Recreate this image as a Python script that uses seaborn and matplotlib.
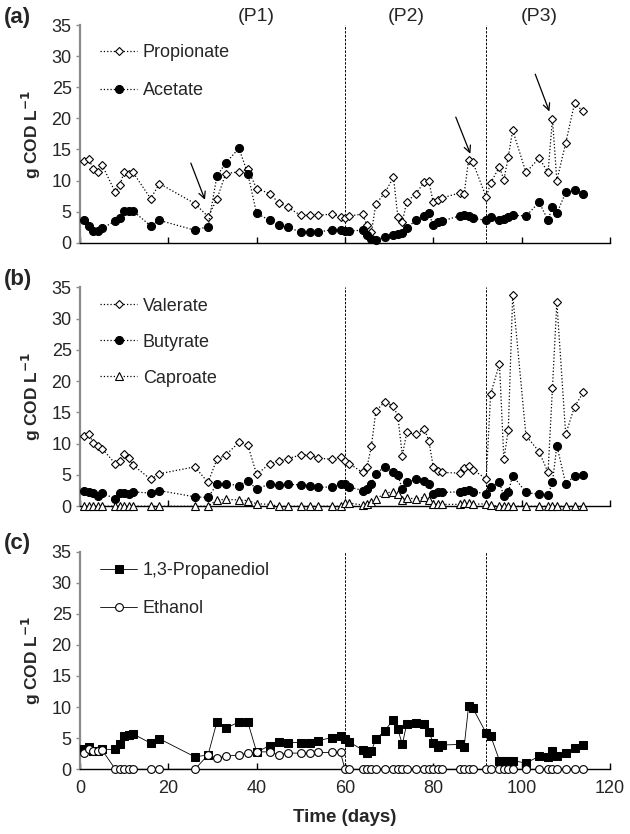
"""Fermentation products over time, three stacked panels."""

import matplotlib
matplotlib.use("Agg")
import matplotlib.pyplot as plt
import seaborn as sns

days = [1, 2, 3, 4, 5, 8, 9, 10, 11, 12, 16, 18, 26, 29, 31, 33, 36, 38, 40, 43,
        45, 47, 50, 52, 54, 57, 59, 60, 61, 64, 65, 66, 67, 69, 71, 72, 73, 74, 76, 78,
        79, 80, 81, 82, 86, 87, 88, 89, 92, 93, 95, 96, 97, 98, 101, 104, 106, 107, 108, 110,
        112, 114]

propionate = [13.1, 13.5, 11.8, 11.4, 12.5, 8.1, 9.2, 11.4, 11.1, 11.3, 7.1, 9.5, 6.3, 4.2, 7.0, 11.1, 11.4, 11.8, 8.7, 7.9,
              6.4, 5.7, 4.4, 4.4, 4.4, 4.6, 4.2, 3.9, 4.3, 4.6, 2.8, 1.7, 6.2, 8.0, 10.5, 4.1, 3.3, 6.6, 7.8, 9.8,
              9.9, 6.5, 6.9, 7.2, 8.0, 7.8, 13.3, 12.9, 7.3, 9.6, 12.2, 10.1, 13.8, 18.1, 11.3, 13.6, 11.3, 19.9, 10.0, 16.0,
              22.4, 21.1]
acetate = [3.6, 2.7, 1.9, 1.9, 2.3, 3.5, 3.9, 5.1, 5.1, 5.1, 2.7, 3.6, 2.0, 2.6, 10.7, 12.8, 15.2, 11.1, 4.7, 3.6,
           2.8, 2.5, 1.7, 1.7, 1.7, 2.1, 2.0, 1.9, 1.9, 2.0, 1.2, 0.6, 0.5, 0.9, 1.2, 1.4, 1.6, 2.3, 3.6, 4.3,
           4.7, 2.8, 3.3, 3.5, 4.3, 4.4, 4.3, 3.9, 3.6, 4.1, 3.6, 3.8, 4.2, 4.4, 4.3, 6.5, 3.6, 5.8, 4.7, 8.1,
           8.4, 7.8]

valerate = [11.3, 11.6, 10.1, 9.6, 9.2, 6.8, 7.3, 8.3, 7.7, 6.6, 4.3, 5.2, 6.3, 3.8, 7.5, 8.2, 10.2, 9.8, 5.1, 6.8,
            7.2, 7.6, 8.2, 8.2, 7.7, 7.5, 7.9, 7.3, 6.8, 5.4, 6.3, 9.6, 15.2, 16.7, 16.0, 14.3, 8.1, 11.8, 11.5, 12.3,
            10.5, 6.3, 5.7, 5.4, 5.3, 6.1, 6.5, 5.8, 4.4, 17.9, 22.8, 7.5, 12.2, 33.8, 11.3, 8.7, 5.4, 18.9, 32.6, 11.5,
            15.9, 18.2]
butyrate = [2.5, 2.3, 2.1, 1.7, 2.1, 1.2, 2.1, 2.1, 2.0, 2.3, 2.1, 2.5, 1.5, 1.4, 3.5, 3.6, 3.3, 4.1, 2.7, 3.6,
            3.4, 3.5, 3.4, 3.3, 3.0, 3.1, 3.5, 3.5, 3.1, 2.5, 2.8, 3.6, 5.2, 6.3, 5.5, 5.0, 2.7, 3.8, 4.3, 4.1,
            3.5, 2.0, 2.2, 2.2, 2.3, 2.5, 2.6, 2.3, 2.0, 3.1, 3.8, 1.6, 2.3, 4.9, 2.2, 1.9, 1.8, 3.8, 9.7, 3.6,
            4.8, 5.0]
caproate = [0, 0, 0, 0, 0, 0, 0, 0, 0, 0, 0, 0, 0, 0, 1.0, 1.1, 1.0, 0.9, 0.4, 0.3,
            0, 0, 0, 0, 0, 0, 0, 0.5, 0.5, 0.2, 0.3, 0.6, 1.1, 2.1, 2.3, 1.9, 1.0, 1.3, 1.2, 1.4,
            1.0, 0.4, 0.3, 0.3, 0.3, 0.5, 0.5, 0.3, 0.4, 0.2, 0, 0, 0, 0, 0, 0, 0, 0, 0, 0,
            0, 0]

propanediol = [3.2, 3.6, 3.0, 3.0, 3.2, 3.2, 4.1, 5.4, 5.5, 5.7, 4.2, 4.9, 2.0, 2.3, 7.6, 6.6, 7.6, 7.6, 2.8, 3.8,
               4.4, 4.3, 4.3, 4.3, 4.6, 5.1, 5.3, 4.8, 4.4, 3.1, 2.6, 3.0, 4.8, 6.2, 8.0, 6.4, 4.0, 7.3, 7.4, 7.3,
               6.0, 4.3, 3.6, 3.9, 4.0, 3.6, 10.1, 9.8, 5.8, 5.4, 1.4, 1.4, 1.4, 1.4, 1.0, 2.1, 2.0, 2.9, 2.1, 2.6,
               3.5, 3.9]
ethanol = [2.6, 3.2, 3.0, 3.0, 3.1, 0, 0, 0, 0, 0, 0, 0, 0, 2.3, 1.8, 2.1, 2.3, 2.6, 2.8, 2.8,
           2.3, 2.6, 2.6, 2.6, 2.7, 2.7, 2.7, 0, 0, 0, 0, 0, 0, 0, 0, 0, 0, 0, 0, 0,
           0, 0, 0, 0, 0, 0, 0, 0, 0, 0, 0, 0, 0, 0, 0, 0, 0, 0, 0, 0,
           0, 0]

phase_bounds = [60, 92]
phase_labels = ["(P1)", "(P2)", "(P3)"]
phase_label_x = [40, 74, 104]
# arrows in panel (a): (tail day, tail value, head day, head value)
arrows = [(25.1, 12.8, 28.3, 6.9), (85.1, 20.2, 88.4, 14.3), (103.1, 27.1, 106.3, 21.1)]

sns.set_theme(style="ticks")
plt.rcParams['font.family'] = ['Liberation Sans', 'DejaVu Sans']

fig = plt.figure(figsize=(6.3, 8.34), dpi=100)
ax_a = fig.add_axes([0.127, 0.709, 0.841, 0.261])
ax_b = fig.add_axes([0.127, 0.393, 0.841, 0.2625])
ax_c = fig.add_axes([0.127, 0.0776, 0.841, 0.261])

dotted = dict(color="black", linestyle=":", linewidth=0.9, clip_on=False, zorder=3)
solid = dict(color="black", linestyle="-", linewidth=0.6, clip_on=False, zorder=3)
open_diamond = dict(marker="D", markersize=4.3, markerfacecolor="white", markeredgecolor="black", markeredgewidth=0.8)
filled_circle = dict(marker="o", markersize=5.8, markerfacecolor="black", markeredgecolor="black")
open_triangle = dict(marker="^", markersize=5.2, markerfacecolor="white", markeredgecolor="black", markeredgewidth=0.8)
filled_square = dict(marker="s", markersize=5.2, markerfacecolor="black", markeredgecolor="black")
open_circle = dict(marker="o", markersize=5.6, markerfacecolor="white", markeredgecolor="black", markeredgewidth=0.8)

# (a)
sns.lineplot(x=days, y=propionate, ax=ax_a, label="Propionate", **dotted, **open_diamond)
sns.lineplot(x=days, y=acetate, ax=ax_a, label="Acetate", **dotted, **filled_circle)
# (b)
sns.lineplot(x=days, y=valerate, ax=ax_b, label="Valerate", **dotted, **open_diamond)
sns.lineplot(x=days, y=butyrate, ax=ax_b, label="Butyrate", **dotted, **filled_circle)
sns.lineplot(x=days, y=caproate, ax=ax_b, label="Caproate", **dotted, **open_triangle)
# (c)
sns.lineplot(x=days, y=propanediol, ax=ax_c, label="1,3-Propanediol", **solid, **filled_square)
sns.lineplot(x=days, y=ethanol, ax=ax_c, label="Ethanol", **solid, **open_circle)

legend_top = {ax_a: 0.945, ax_b: 0.985, ax_c: 0.985}
legend_gap = {ax_a: 1.15, ax_b: 1.05, ax_c: 1.15}

for ax in (ax_a, ax_b, ax_c):
    ax.set_xlim(0, 120)
    ax.set_ylim(0, 35)
    ax.set_xticks(range(0, 121, 20))
    ax.set_yticks(range(0, 36, 5))
    sns.despine(ax=ax)
    ax.spines["left"].set_color("#8a8a8a")
    ax.spines["left"].set_linewidth(1.6)
    ax.spines["bottom"].set_color("black")
    ax.spines["bottom"].set_linewidth(1.0)
    ax.tick_params(axis="x", direction="in", length=4, width=1.0, labelsize=13, color="black", pad=8)
    ax.tick_params(axis="y", direction="out", length=3, width=1.0, labelsize=13, color="#8a8a8a", pad=3)
    for b in phase_bounds:
        ax.axvline(b, color="black", linestyle=(0, (2.5, 1.5)), linewidth=0.7, zorder=1)
    ax.set_ylabel("g COD L$^{\\mathbf{-1}}$", fontsize=12.5, fontweight="bold", labelpad=6)
    ax.set_xlabel("")
    ax.legend(loc="upper left", bbox_to_anchor=(0.025, legend_top[ax]), borderaxespad=0, frameon=False,
              fontsize=13, handlelength=2.0, handletextpad=0.35, labelspacing=legend_gap[ax])
    ax.patch.set_alpha(0)

ax_a.set_xticklabels([])
ax_b.set_xticklabels([])
ax_c.set_xlabel("Time (days)", fontsize=13.5, fontweight="bold", labelpad=8)

for lab, x in zip(phase_labels, phase_label_x):
    ax_a.text(x, 36.3, lab, ha="center", va="center", fontsize=14, clip_on=False)

for x0, y0, x1, y1 in arrows:
    ax_a.annotate("", xy=(x1, y1), xytext=(x0, y0),
                  arrowprops=dict(arrowstyle="->", color="black", lw=0.9, shrinkA=0, shrinkB=0,
                                  mutation_scale=12))

for lab, y in zip(["(a)", "(b)", "(c)"], [18, 280, 544]):
    fig.text(4 / 630, 1 - y / 834, lab, ha="left", va="center", fontsize=16, fontweight="bold")

fig.savefig("out.png", dpi=100)
plt.close(fig)
